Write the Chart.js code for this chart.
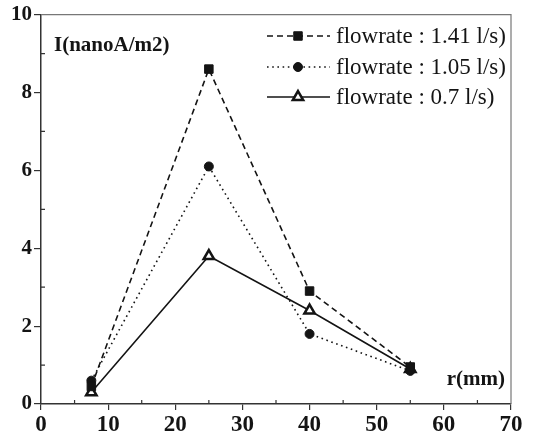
<!DOCTYPE html>
<html lang="en">
<head>
<meta charset="UTF-8">
<title>I vs r</title>
<script src="https://cdn.jsdelivr.net/npm/chart.js"></script>
<style>
  html, body { margin: 0; padding: 0; background: #fff; }
  #wrap { width: 536px; height: 441px; }
</style>
</head>
<body>
<div id="wrap"><canvas id="chart"></canvas></div>
<script>
// values
const radius = [7.5, 25, 40, 55];
const flow141 = [0.45, 8.6, 2.9, 0.95];
const flow105 = [0.6, 6.1, 1.8, 0.85];
const flow07 = [0.3, 3.8, 2.4, 0.9];
const seriesNames = ['flowrate : 1.41 l/s)', 'flowrate : 1.05 l/s)', 'flowrate : 0.7 l/s)'];
const xMajor = 10, xMinor = 5;
const yMajor = 2, yMinor = 1;

const ink = '#141414';
const serif = "'Liberation Serif', 'DejaVu Serif', serif";

function pts(ys) {
    return radius.map((r, i) => ({ x: r, y: ys[i] }));
}

const datasets = [
    { label: seriesNames[0], data: pts(flow141), borderDash: [6, 4], pointStyle: 'rect', pointRadius: 6,
      backgroundColor: ink, pointBorderWidth: 1 },
    { label: seriesNames[1], data: pts(flow105), borderDash: [1.6, 3.6], pointStyle: 'circle', pointRadius: 4.5,
      backgroundColor: ink, pointBorderWidth: 1 },
    { label: seriesNames[2], data: pts(flow07), borderDash: [], pointStyle: 'triangle', pointRadius: 6,
      backgroundColor: '#fff', pointBorderWidth: 2.5 }
].map(d => Object.assign({
    borderColor: ink, borderWidth: 1.6, pointBorderColor: ink, pointBackgroundColor: d.backgroundColor,
    tension: 0, showLine: true, fill: false
}, d));

// minor ticks (inward), frame, in-plot labels and legend
const extras = {
    id: 'extras',
    afterDraw(chart) {
        const { ctx, chartArea: a, scales: { x, y } } = chart;
        ctx.save();
        // top / right frame
        ctx.strokeStyle = '#777';
        ctx.lineWidth = 1.2;
        ctx.beginPath();
        ctx.moveTo(a.left, a.top); ctx.lineTo(a.right, a.top); ctx.lineTo(a.right, a.bottom);
        ctx.stroke();
        // minor ticks
        ctx.strokeStyle = '#333';
        ctx.lineWidth = 1.2;
        ctx.beginPath();
        for (let v = xMinor; v < x.max; v += xMajor) {
            const px = x.getPixelForValue(v);
            ctx.moveTo(px, a.bottom); ctx.lineTo(px, a.bottom - 4);
        }
        for (let v = yMinor; v < y.max; v += yMajor) {
            const py = y.getPixelForValue(v);
            ctx.moveTo(a.left, py); ctx.lineTo(a.left + 4, py);
        }
        ctx.stroke();

        // axis titles inside the plot
        ctx.fillStyle = ink;
        ctx.textBaseline = 'middle';
        ctx.font = 'bold 21px ' + serif;
        ctx.textAlign = 'left';
        ctx.fillText('I(nanoA/m2)', a.left + 13, a.top + 31);
        ctx.textAlign = 'right';
        ctx.fillText('r(mm)', a.right - 6, a.bottom - 24);

        // legend
        ctx.font = '23px ' + serif;
        ctx.textAlign = 'left';
        const rows = [36, 67, 97];
        chart.data.datasets.forEach((ds, i) => {
            const ry = rows[i];
            ctx.strokeStyle = ink;
            ctx.lineWidth = ds.borderWidth;
            ctx.setLineDash(ds.borderDash);
            ctx.beginPath();
            ctx.moveTo(267, ry); ctx.lineTo(330, ry);
            ctx.stroke();
            ctx.setLineDash([]);
            ctx.fillStyle = ds.pointBackgroundColor;
            ctx.strokeStyle = ink;
            ctx.lineWidth = ds.pointBorderWidth;
            Chart.helpers.drawPoint(ctx, {
                pointStyle: ds.pointStyle, radius: ds.pointRadius, rotation: 0, borderWidth: ds.pointBorderWidth
            }, 298, ry);
            ctx.fillStyle = ink;
            ctx.fillText(ds.label, 336, ry + 1);
        });
        ctx.restore();
    }
};

new Chart(document.getElementById('chart'), {
    type: 'scatter',
    data: { datasets },
    options: {
        responsive: true,
        maintainAspectRatio: false,
        animation: false,
        layout: { padding: { top: 12, right: 25, left: 0, bottom: 0 } },
        plugins: { legend: { display: false }, tooltip: { enabled: false } },
        scales: {
            x: {
                type: 'linear', min: 0, max: 70,
                afterFit(s) { s.height = 37; },
                ticks: { stepSize: xMajor, color: ink, padding: 1, maxRotation: 0,
                         font: { family: serif, size: 23, weight: 'bold' } },
                grid: { drawOnChartArea: false, tickLength: 6, color: '#333', lineWidth: 1.2 },
                border: { color: '#333', width: 1.5 }
            },
            y: {
                min: 0, max: 10,
                afterFit(s) { s.width = 41; },
                ticks: { stepSize: yMajor, color: ink, padding: 2,
                         font: { family: serif, size: 21, weight: 'bold' } },
                grid: { drawOnChartArea: false, tickLength: 7, color: '#333', lineWidth: 1.2 },
                border: { color: '#333', width: 1.5 }
            }
        }
    },
    plugins: [extras]
});
</script>
</body>
</html>
